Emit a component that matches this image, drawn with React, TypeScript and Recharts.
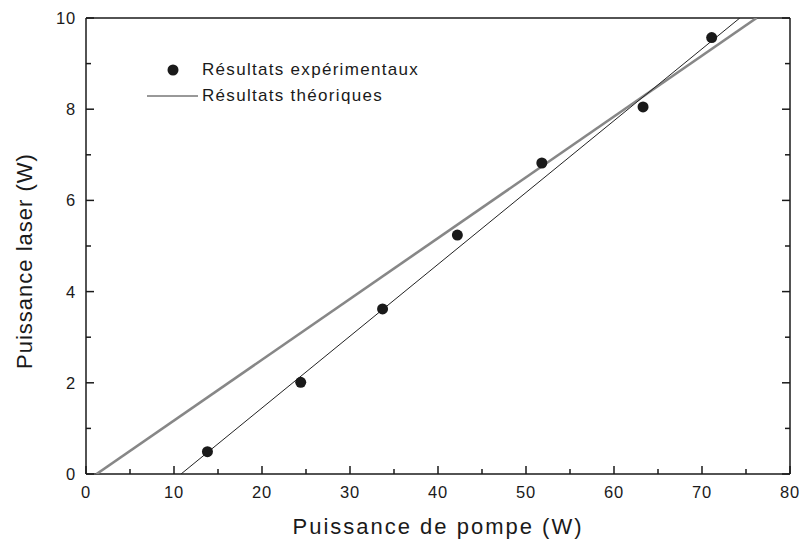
import {
  ComposedChart, Scatter, XAxis, YAxis, Legend, Label,
} from 'recharts'

// measured points (pump power W, laser power W)
const pompeMes = [13.8, 24.4, 33.7, 42.2, 51.8, 63.3, 71.1]
const laserMes = [0.49, 2.01, 3.62, 5.24, 6.82, 8.05, 9.57]

// theoretical lines, end points
const theoA_x = [1.2, 76.2]
const theoA_y = [0, 10]
const theoB_x = [10.8, 74.3]
const theoB_y = [0, 10]

const xTicks = [0, 5, 10, 15, 20, 25, 30, 35, 40, 45, 50, 55, 60, 65, 70, 75, 80]
const yTicks = [0, 1, 2, 3, 4, 5, 6, 7, 8, 9, 10]

const mesures = pompeMes.map((x, i) => ({ x, y: laserMes[i] }))
const theoA = theoA_x.map((x, i) => ({ x, y: theoA_y[i] }))
const theoB = theoB_x.map((x, i) => ({ x, y: theoB_y[i] }))

const FONT = 'Liberation Sans, Arial, Helvetica, sans-serif'
const INK = '#1a1a1a'

const BottomTick = (p: any) => {
  const v = p.payload.value
  const major = v % 10 === 0
  return (
    <g>
      <line x1={p.x} y1={p.y} x2={p.x} y2={p.y - (major ? 8 : 5)} stroke={INK} strokeWidth={1.5} />
      {major && (
        <text x={p.x} y={p.y + 24} textAnchor="middle" fontSize={16.5} letterSpacing={0.8}
          fontFamily={FONT} fill={INK}>{v}</text>
      )}
    </g>
  )
}

const TopTick = (p: any) => {
  const major = p.payload.value % 10 === 0
  return <line x1={p.x} y1={p.y} x2={p.x} y2={p.y + (major ? 8 : 5)} stroke={INK} strokeWidth={1.5} />
}

const LeftTick = (p: any) => {
  const v = p.payload.value
  const major = v % 2 === 0
  return (
    <g>
      <line x1={p.x} y1={p.y} x2={p.x + (major ? 8 : 5)} y2={p.y} stroke={INK} strokeWidth={1.5} />
      {major && (
        <text x={p.x - 10} y={p.y + 6} textAnchor="end" fontSize={16.5} letterSpacing={0.8}
          fontFamily={FONT} fill={INK}>{v}</text>
      )}
    </g>
  )
}

const RightTick = (p: any) => {
  const major = p.payload.value % 2 === 0
  return <line x1={p.x} y1={p.y} x2={p.x - (major ? 8 : 5)} y2={p.y} stroke={INK} strokeWidth={1.5} />
}

const NoDot = () => <g />

const Dot = (p: any) => <circle cx={p.cx} cy={p.cy} r={5.5} fill={INK} />

const LegendBox = () => (
  <div style={{ fontFamily: FONT, fontSize: 17, letterSpacing: 1.3, color: INK, lineHeight: '26px' }}>
    <div style={{ display: 'flex', alignItems: 'center', whiteSpace: 'nowrap' }}>
      <svg width={56} height={26}><circle cx={29} cy={13} r={5.5} fill={INK} /></svg>
      <span style={{ marginLeft: 2 }}>Résultats expérimentaux</span>
    </div>
    <div style={{ display: 'flex', alignItems: 'center', whiteSpace: 'nowrap' }}>
      <svg width={56} height={26}><line x1={3} y1={13} x2={54} y2={13} stroke="#333" strokeWidth={1} /></svg>
      <span style={{ marginLeft: 2 }}>Résultats théoriques</span>
    </div>
  </div>
)

export default function App() {
  return (
    <div style={{ position: 'absolute', left: 0, top: 0 }}>
      <ComposedChart width={803} height={541} margin={{ top: 8, right: 0, bottom: 0, left: 8 }}>
        <XAxis
          xAxisId="b" type="number" dataKey="x" domain={[0, 80]} ticks={xTicks}
          orientation="bottom" height={67} tickSize={0} tickMargin={0}
          axisLine={{ stroke: INK, strokeWidth: 1.5 }} tickLine={false} tick={<BottomTick />}
          allowDataOverflow
        >
          <Label value="Puissance de pompe (W)" position="insideBottom" offset={7}
            style={{ fontFamily: FONT, fontSize: 22, letterSpacing: 2, fill: INK }} />
        </XAxis>
        <XAxis
          xAxisId="t" type="number" domain={[0, 80]} ticks={xTicks}
          orientation="top" height={10} tickSize={0} tickMargin={0}
          axisLine={{ stroke: INK, strokeWidth: 1.5 }} tickLine={false} tick={<TopTick />}
          allowDataOverflow
        />
        <YAxis
          yAxisId="l" type="number" dataKey="y" domain={[0, 10]} ticks={yTicks}
          orientation="left" width={78} tickSize={0} tickMargin={0}
          axisLine={{ stroke: INK, strokeWidth: 1.5 }} tickLine={false} tick={<LeftTick />}
          allowDataOverflow
        >
          <Label content={() => (
            <text x={24} y={261} transform="rotate(-90 24 261)" textAnchor="middle" dominantBaseline="central"
              fontSize={22} letterSpacing={1} fontFamily={FONT} fill={INK}>Puissance laser (W)</text>
          )} />
        </YAxis>
        <YAxis
          yAxisId="r" type="number" domain={[0, 10]} ticks={yTicks}
          orientation="right" width={13} tickSize={0} tickMargin={0}
          axisLine={{ stroke: INK, strokeWidth: 1.5 }} tickLine={false} tick={<RightTick />}
          allowDataOverflow
        />
        <Legend
          layout="vertical" align="center" verticalAlign="middle"
          content={<LegendBox />}
          wrapperStyle={{ position: 'absolute', left: 144, top: 57, width: 320, height: 52 }}
        />
        <Scatter xAxisId="b" yAxisId="l" name="Résultats théoriques" data={theoA}
          line={{ stroke: '#878787', strokeWidth: 2.6 }} shape={<NoDot />} isAnimationActive={false} />
        <Scatter xAxisId="b" yAxisId="l" name="Résultats théoriques" data={theoB}
          line={{ stroke: '#222', strokeWidth: 1 }} shape={<NoDot />} isAnimationActive={false} legendType="none" />
        <Scatter xAxisId="b" yAxisId="l" name="Résultats expérimentaux" data={mesures}
          shape={<Dot />} isAnimationActive={false} />
      </ComposedChart>
    </div>
  )
}
